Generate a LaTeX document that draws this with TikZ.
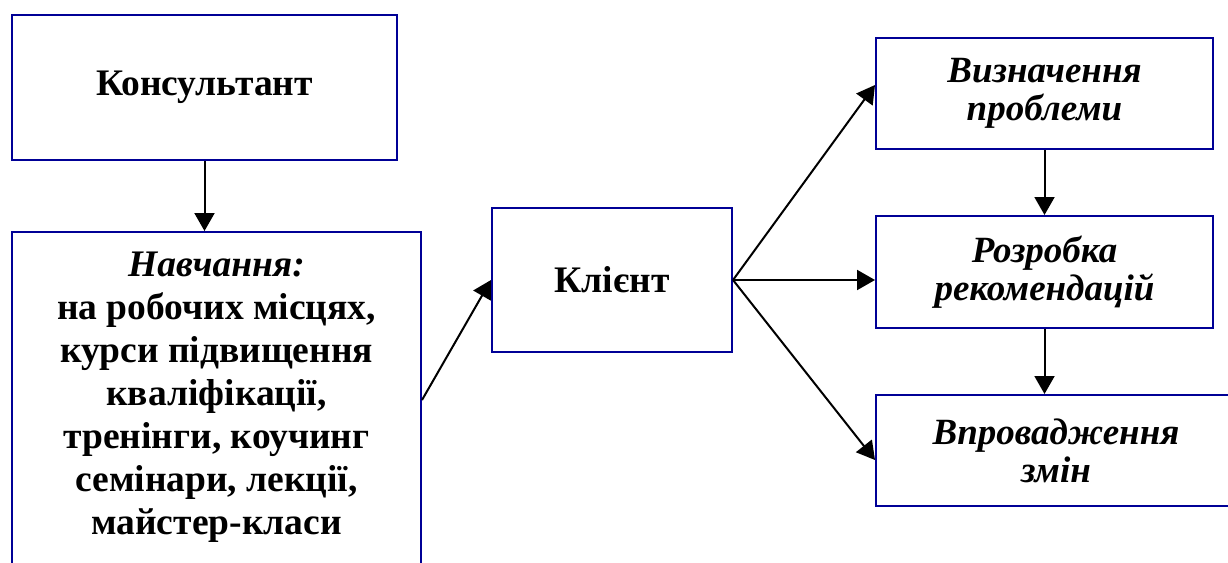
\documentclass[tikz,border=0pt]{standalone}
\usepackage{fontspec}
\setmainfont{Liberation Serif}
\usetikzlibrary{arrows.meta}
\definecolor{boxblue}{RGB}{0,0,150}
\begin{document}
\begin{tikzpicture}[x=1pt,y=-1pt,
 boxline/.style={draw=boxblue, line width=2pt, inner sep=0pt},
 conn/.style={draw=black, line width=2pt, -{Triangle[length=18pt,width=20pt]}},
 lefttext/.style={font=\fontsize{37.5}{43}\selectfont\bfseries, align=center},
 righttext/.style={font=\fontsize{37}{38}\selectfont\bfseries\itshape, align=center}]
\useasboundingbox (0,0) rectangle (1228,562);
\clip (0,0) rectangle (1228,562);
\node[boxline, lefttext, minimum width=385pt, minimum height=145pt] (A) at (204.5,87.5) {Консультант};
\node[boxline, minimum width=409pt, minimum height=368pt] (Bbox) at (216.5,416) {};
\node[lefttext, inner sep=0pt] (Btext) at (216.5,397) {\textit{Навчання:}\\на робочих місцях,\\курси підвищення\\кваліфікації,\\тренінги, коучинг\\семінари, лекції,\\майстер-класи};
\node[boxline, lefttext, minimum width=240pt, minimum height=144pt] (K) at (612,280) {Клієнт};
\node[boxline, righttext, minimum width=337pt, minimum height=111pt] (R1) at (1044.5,93.5) {Визначення\\проблеми};
\node[boxline, righttext, minimum width=337pt, minimum height=112pt] (R2) at (1044.5,272) {Розробка\\рекомендацій};
\node[boxline, righttext, minimum width=360pt, minimum height=111pt] (R3) at (1056,450.5) {Впровадження\\змін};
\draw[conn] (A.south) -- (A.south |- Bbox.north);
\draw[conn] ([yshift=16pt]Bbox.east) -- (K.west);
\draw[conn] (K.east) -- ([yshift=8.5pt]R1.west);
\draw[conn] (K.east) -- (K.east -| R2.west);
\draw[conn] (K.east) -- ([yshift=-9.5pt]R3.west);
\draw[conn] (R1.south) -- (R2.north);
\draw[conn] (R2.south) -- (R2.south |- R3.north);
\end{tikzpicture}
\end{document}
